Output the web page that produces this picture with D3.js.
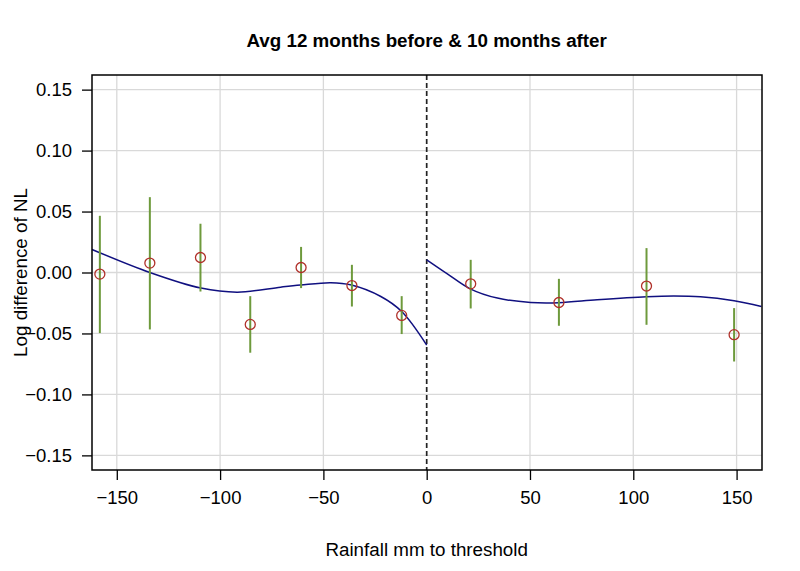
<!DOCTYPE html>
<html>
<head>
<meta charset="utf-8">
<script src="https://d3js.org/d3.v7.min.js"></script>
<style>
  body { margin: 0; background: #fff; }
  text { font-family: "Liberation Sans", Arial, Helvetica, sans-serif; fill: #000; }
  .grid line { stroke: #d9d9d9; stroke-width: 1.3px; }
</style>
</head>
<body>
<svg id="chart" width="800" height="571"></svg>
<script>
// binned means with confidence intervals
const binX    = [-158.2, -134, -109.5, -85.4, -60.8, -36.2, -12.1, 21.3, 64, 106.4, 148.8];
const binMean = [-0.0013, 0.0077, 0.0123, -0.0426, 0.0041, -0.0107, -0.0352, -0.0093, -0.0246, -0.0111, -0.051];
const ciLow   = [-0.0497, -0.0467, -0.0156, -0.0658, -0.0128, -0.0279, -0.0505, -0.0295, -0.0437, -0.0429, -0.073];
const ciHigh  = [0.0465, 0.0618, 0.040, -0.0194, 0.021, 0.0063, -0.0194, 0.0104, -0.0052, 0.020, -0.0292];

// fitted curve, each side of the threshold
const fitLeftX  = [-162, -134, -109.3, -91.6, -70.7, -61, -46.4, -36.4, -22.2, -12.1, 0];
const fitLeftY  = [0.0189, 0.000, -0.0128, -0.0161, -0.012, -0.0103, -0.0084, -0.0103, -0.0197, -0.032, -0.0595];
const fitRightX = [0, 10, 21.3, 34.2, 50.3, 64, 82.5, 106.4, 119.6, 132.5, 148.8, 162];
const fitRightY = [0.0104, -0.0011, -0.0136, -0.021, -0.0246, -0.0248, -0.0224, -0.0199, -0.0193, -0.0199, -0.0232, -0.0279];

const xTicks = [-150, -100, -50, 0, 50, 100, 150];
const yTicks = [-0.15, -0.10, -0.05, 0.00, 0.05, 0.10, 0.15];

const svg = d3.select("#chart");
const margin = {top: 75, right: 38, bottom: 101, left: 92};
const width = 800 - margin.left - margin.right;
const height = 571 - margin.top - margin.bottom;

const x = d3.scaleLinear().domain([-162, 162.3]).range([0, width]);
const y = d3.scaleLinear().domain([-0.162, 0.162]).range([height, 0]);

const g = svg.append("g").attr("transform", `translate(${margin.left},${margin.top})`);

// grid
const grid = g.append("g").attr("class", "grid");
grid.selectAll("line.gx").data(xTicks.filter(d => d !== 0)).join("line")
    .attr("x1", d => x(d)).attr("x2", d => x(d))
    .attr("y1", 0).attr("y2", height);
grid.selectAll("line.gy").data(yTicks).join("line")
    .attr("x1", 0).attr("x2", width)
    .attr("y1", d => y(d)).attr("y2", d => y(d));

// threshold
g.append("line")
    .attr("x1", x(0)).attr("x2", x(0))
    .attr("y1", 0).attr("y2", height)
    .attr("stroke", "#222").attr("stroke-width", 1.7)
    .attr("stroke-dasharray", "5,3");

// fitted curves
const line = d3.line().x(d => x(d[0])).y(d => y(d[1])).curve(d3.curveCatmullRom);
g.append("path").datum(d3.zip(fitLeftX, fitLeftY))
    .attr("d", line).attr("fill", "none").attr("stroke", "#101080").attr("stroke-width", 1.5);
g.append("path").datum(d3.zip(fitRightX, fitRightY))
    .attr("d", line).attr("fill", "none").attr("stroke", "#101080").attr("stroke-width", 1.5);

// error bars
g.selectAll("line.ci").data(binX).join("line")
    .attr("class", "ci")
    .attr("x1", d => x(d)).attr("x2", d => x(d))
    .attr("y1", (d, i) => y(ciLow[i])).attr("y2", (d, i) => y(ciHigh[i]))
    .attr("stroke", "#6e9a3c").attr("stroke-width", 2);

// points
g.selectAll("circle.pt").data(binX).join("circle")
    .attr("class", "pt")
    .attr("cx", d => x(d)).attr("cy", (d, i) => y(binMean[i]))
    .attr("r", 5)
    .attr("fill", "none").attr("stroke", "#b0302a").attr("stroke-width", 1.3);

// box
g.append("rect").attr("width", width).attr("height", height)
    .attr("fill", "none").attr("stroke", "#000").attr("stroke-width", 1.5);

// axes
const fmtY = d => d3.format(".2f")(d).replace("-", "\u2212");
const fmtX = d => String(d).replace("-", "\u2212");
const yAxis = g.append("g")
    .call(d3.axisLeft(y).tickValues(yTicks).tickSize(10).tickPadding(10).tickFormat(fmtY));
const xAxis = g.append("g").attr("transform", `translate(0,${height})`)
    .call(d3.axisBottom(x).tickValues(xTicks).tickSize(10).tickPadding(11).tickFormat(fmtX));
[xAxis, yAxis].forEach(a => {
  a.select(".domain").remove();
  a.selectAll("line").attr("stroke", "#000").attr("stroke-width", 1.3);
  a.selectAll("text").style("font-size", "18.5px").attr("fill", "#000");
});

// titles
svg.append("text")
    .attr("x", margin.left + x(0)).attr("y", 47)
    .attr("text-anchor", "middle")
    .style("font-size", "18.8px").style("font-weight", "bold")
    .text("Avg 12 months before & 10 months after");
svg.append("text")
    .attr("x", margin.left + x(0)).attr("y", 556)
    .attr("text-anchor", "middle")
    .style("font-size", "18.8px")
    .text("Rainfall mm to threshold");
svg.append("text")
    .attr("transform", `translate(27,${margin.top + y(0)}) rotate(-90)`)
    .attr("text-anchor", "middle")
    .style("font-size", "18.8px")
    .text("Log difference of NL");
</script>
</body>
</html>
